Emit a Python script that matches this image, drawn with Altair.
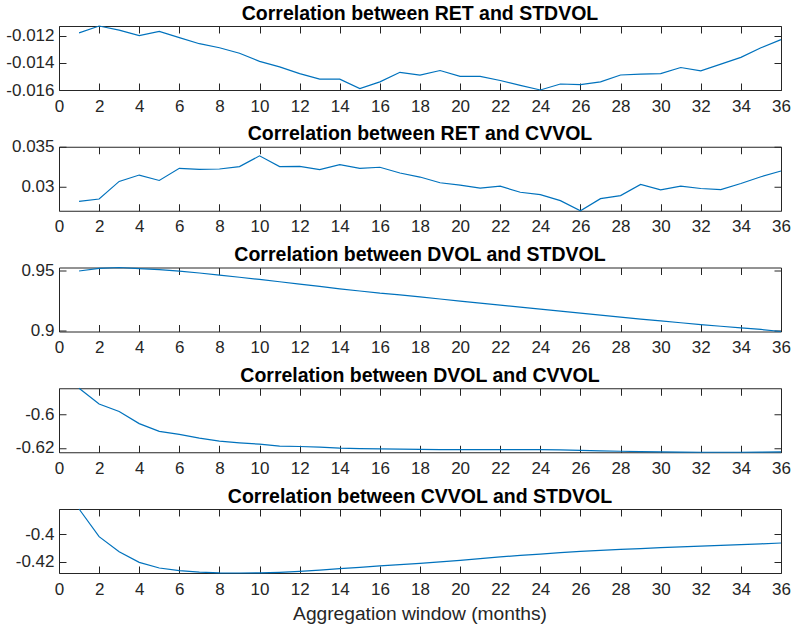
import altair as alt
import pandas as pd

# Aggregation windows (months)
months = list(range(1, 37))

ret_stdvol = [-0.0118, -0.0113, -0.0116, -0.0120, -0.0117, -0.01215, -0.0126, -0.0129,
              -0.0133, -0.0139, -0.0143, -0.0148, -0.0152, -0.0152, -0.0159, -0.0154,
              -0.0147, -0.0149, -0.01457, -0.0150, -0.0150, -0.0153, -0.01566, -0.0160,
              -0.01556, -0.0156, -0.0154, -0.0149, -0.01484, -0.0148, -0.01435, -0.0146,
              -0.0141, -0.0136, -0.0129, -0.0123]
ret_cvvol = [0.02814, 0.02843, 0.03064, 0.03144, 0.03076, 0.03229, 0.03216, 0.03220,
             0.03250, 0.03386, 0.03250, 0.03254, 0.03212, 0.03275, 0.03229, 0.03242,
             0.03170, 0.03119, 0.03047, 0.03017, 0.02979, 0.03004, 0.02928, 0.02898,
             0.02822, 0.02695, 0.02847, 0.02886, 0.03025, 0.02958, 0.03004, 0.02975,
             0.02962, 0.03038, 0.03123, 0.03195]
dvol_stdvol = [0.9492, 0.9514, 0.9521, 0.9512, 0.9503, 0.9492, 0.9476, 0.9459, 0.9441,
               0.9423, 0.9404, 0.9385, 0.9366, 0.9346, 0.9328, 0.9310, 0.9296, 0.9280,
               0.9262, 0.9245, 0.9229, 0.9212, 0.9196, 0.9179, 0.9163, 0.9146, 0.9130,
               0.9113, 0.9097, 0.9082, 0.9067, 0.9052, 0.9038, 0.9025, 0.9012, 0.8995]
dvol_cvvol = [-0.5846, -0.5940, -0.5984, -0.6056, -0.6102, -0.6120, -0.6142, -0.6160,
              -0.6170, -0.6178, -0.6190, -0.6192, -0.6196, -0.6202, -0.6204, -0.6206,
              -0.6208, -0.6209, -0.6210, -0.6210, -0.6210, -0.6210, -0.6210, -0.6210,
              -0.6212, -0.6215, -0.6218, -0.6220, -0.6222, -0.6224, -0.6225, -0.6226,
              -0.6226, -0.6226, -0.6225, -0.6224]
cvvol_stdvol = [-0.3819, -0.4019, -0.4128, -0.4205, -0.4246, -0.4265, -0.4275, -0.4281,
                -0.4282, -0.4281, -0.4277, -0.4270, -0.4261, -0.4251, -0.4241, -0.4231,
                -0.4222, -0.4212, -0.4201, -0.4190, -0.4178, -0.4166, -0.4155, -0.4145,
                -0.4135, -0.4125, -0.4118, -0.4111, -0.4105, -0.4099, -0.4093, -0.4087,
                -0.4082, -0.4077, -0.4071, -0.4065]

titles = ["Correlation between RET and STDVOL",
          "Correlation between RET and CVVOL",
          "Correlation between DVOL and STDVOL",
          "Correlation between DVOL and CVVOL",
          "Correlation between CVVOL and STDVOL"]
x_title = "Aggregation window (months)"
series = [ret_stdvol, ret_cvvol, dvol_stdvol, dvol_cvvol, cvvol_stdvol]
y_limits = [(-0.0160, -0.0113), (0.02695, 0.0350), (0.8995, 0.9521),
            (-0.6226, -0.5846), (-0.4282, -0.3819)]
y_ticks = [[-0.016, -0.014, -0.012], [0.03, 0.035], [0.9, 0.95],
           [-0.62, -0.6], [-0.42, -0.4]]
x_ticks = list(range(0, 37, 2))

W, H = 722, 64
TICK = 7
LINE_COLOR = "#0072BD"
AXIS_COLOR = "#262626"
FONT = "Liberation Sans"
LABEL_EXPR = "replace(format(datum.value, '~g'), '\u2212', '-')"


def panel(i):
    df = pd.DataFrame({"month": months, "corr": series[i]})
    xscale = alt.Scale(domain=[0, 36], nice=False, zero=False)
    yscale = alt.Scale(domain=list(y_limits[i]), nice=False, zero=False)
    last = i == len(series) - 1

    # ticks point inward: each axis is pulled inside the box by the tick length
    common = dict(tickSize=TICK, offset=-TICK, tickColor=AXIS_COLOR, tickWidth=1,
                  domain=False, grid=False, title=None)
    x_bottom = alt.Axis(values=x_ticks, orient="bottom", labelPadding=8, labelFontSize=17,
                        labelColor=AXIS_COLOR, labelFont=FONT, labelFlush=False, **common)
    y_left = alt.Axis(values=y_ticks[i], orient="left", labelPadding=5, labelFontSize=17,
                      labelColor=AXIS_COLOR, labelFont=FONT, labelExpr=LABEL_EXPR, **common)
    x_top = alt.Axis(values=x_ticks, orient="top", labels=False, **common)
    y_right = alt.Axis(values=y_ticks[i], orient="right", labels=False, **common)

    line = alt.Chart(df).mark_line(color=LINE_COLOR, strokeWidth=1.2).encode(
        x=alt.X("month:Q", scale=xscale, axis=x_bottom),
        y=alt.Y("corr:Q", scale=yscale, axis=y_left),
    )
    mirror = alt.Chart(df).mark_line(opacity=0).encode(
        x=alt.X("month:Q", scale=xscale, axis=x_top),
        y=alt.Y("corr:Q", scale=yscale, axis=y_right),
    )
    head = alt.Chart(pd.DataFrame({"label": [titles[i]]})).mark_text(
        font=FONT, fontSize=19.5, fontWeight="bold", color="#000000",
        align="center", baseline="alphabetic",
    ).encode(text="label:N", x=alt.value(W / 2), y=alt.value(-6.5))
    layers = [line, mirror, head]
    if last:
        foot = alt.Chart(pd.DataFrame({"label": [x_title]})).mark_text(
            font=FONT, fontSize=19.2, color=AXIS_COLOR, align="center", baseline="alphabetic",
        ).encode(text="label:N", x=alt.value(W / 2), y=alt.value(H + 47))
        layers.append(foot)

    return alt.layer(*layers).resolve_axis(x="independent", y="independent").properties(
        width=W, height=H)


chart = alt.vconcat(*[panel(i) for i in range(5)], spacing=56.75, bounds="flush").properties(
    padding={"left": 5, "top": 3, "right": 5, "bottom": 5},
    background="white",
).configure_view(stroke=AXIS_COLOR, strokeWidth=1)

chart.save("out.html", embed_options={"renderer": "svg", "actions": False})
